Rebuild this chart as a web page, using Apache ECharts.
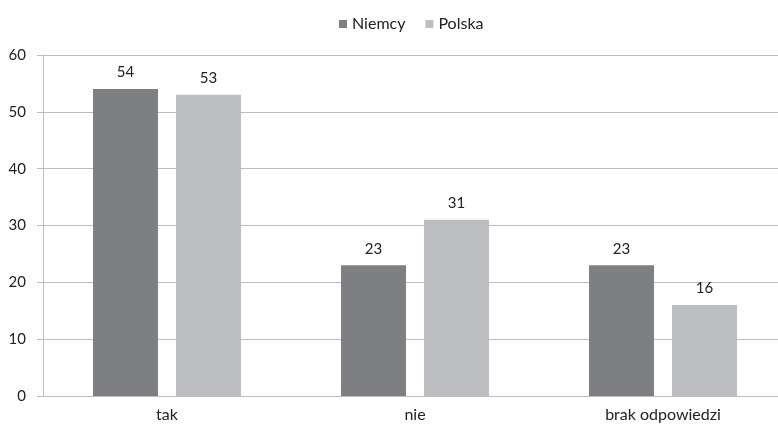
<!DOCTYPE html>
<html><head><meta charset="utf-8">
<script src="https://cdn.jsdelivr.net/npm/echarts@6/dist/echarts.min.js"></script>
<style>html,body{margin:0;padding:0;background:#fff;overflow:hidden;width:778px;height:426px}#c{width:787px;height:426px}</style>
</head><body><div id="c"></div>
<script>
const categories = ['tak', 'nie', 'brak odpowiedzi'];
const niemcy = [54, 23, 23];
const polska = [53, 31, 16];
const seriesNames = ['Niemcy', 'Polska'];
const yTicks = [0, 10, 20, 30, 40, 50, 60];

const chart = echarts.init(document.getElementById('c'));
const font = 'Lato, Open Sans, sans-serif';
chart.setOption({
  animation: false,
  textStyle: { fontFamily: font },
  legend: {
    top: 11, left: 334, itemWidth: 8, itemHeight: 8, itemGap: 20,
    icon: 'rect',
    textStyle: { fontSize: 16, color: '#222', fontFamily: font },
    data: seriesNames
  },
  grid: { left: 43, right: 0, top: 55, bottom: 30, containLabel: false },
  xAxis: {
    type: 'category', data: categories,
    axisLine: { lineStyle: { color: '#bfbfbf', width: 1 } },
    axisTick: { show: false },
    axisLabel: { fontSize: 16, color: '#222', margin: 11, fontFamily: font }
  },
  yAxis: {
    type: 'value', min: yTicks[0], max: yTicks[yTicks.length - 1], interval: 10,
    axisLine: { show: true, lineStyle: { color: '#bfbfbf' } },
    axisTick: { show: true, length: 6, inside: false, lineStyle: { color: '#bfbfbf' } },
    splitLine: { lineStyle: { color: '#bfbfbf' } },
    axisLabel: { fontSize: 15, color: '#222', margin: 17, fontFamily: font }
  },
  series: [
    { name: seriesNames[0], type: 'bar', data: niemcy, barWidth: 65, barGap: '27.7%',
      itemStyle: { color: '#7e7f83' },
      label: { show: true, position: 'top', distance: 9, fontSize: 15, color: '#222', fontFamily: font } },
    { name: seriesNames[1], type: 'bar', data: polska, barWidth: 65, barGap: '27.7%',
      itemStyle: { color: '#bcbdc1' },
      label: { show: true, position: 'top', distance: 9, fontSize: 15, color: '#222', fontFamily: font } }
  ]
});
</script></body></html>
